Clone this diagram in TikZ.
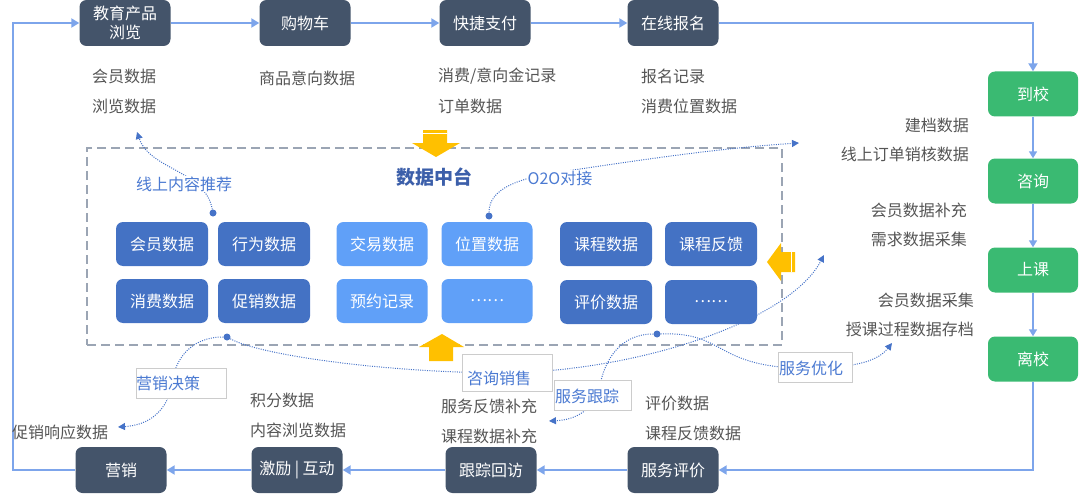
\documentclass[tikz,border=0pt]{standalone}
\usepackage{fontspec}
\setmainfont{Noto Sans CJK SC}
\usetikzlibrary{arrows.meta}
\definecolor{dkn}{RGB}{68,84,106}
\definecolor{grn}{RGB}{58,186,114}
\definecolor{dbl}{RGB}{68,114,196}
\definecolor{lbl}{RGB}{96,160,248}
\definecolor{flw}{RGB}{125,165,235}
\definecolor{gtx}{RGB}{85,85,85}
\definecolor{cbl}{RGB}{70,115,200}
\definecolor{tbl}{RGB}{75,122,210}
\definecolor{frm}{RGB}{155,165,180}
\definecolor{org}{RGB}{255,192,0}
\definecolor{ttl}{RGB}{60,95,170}
\newcommand\myfs{\fontsize{16}{19}\selectfont}
\begin{document}
\begin{tikzpicture}[x=1pt,y=-1pt,
  box/.style={rounded corners=7pt, inner sep=0pt, align=center, text=white, font=\myfs},
  dk/.style={box, fill=dkn, minimum width=91pt, minimum height=46pt},
  gr/.style={box, fill=grn, minimum width=90pt, minimum height=45pt},
  db/.style={box, fill=dbl, minimum width=92pt, minimum height=44pt},
  lb/.style={box, fill=lbl, minimum width=91pt, minimum height=44pt},
  txl/.style={anchor=west, inner sep=0pt, text=gtx, font=\myfs},
  txr/.style={anchor=east, inner sep=0pt, text=gtx, font=\myfs},
  flow/.style={draw=flw, line width=2pt, -{Triangle[length=8pt,width=9pt]}},
  gflow/.style={draw=flw, line width=1.6pt, -{Triangle[length=7pt,width=8pt]}},
  conn/.style={draw=cbl, line width=1pt, dash pattern=on 1pt off 1.3pt},
  carr/.style={conn, -{Triangle[length=7pt,width=7pt]}},
  cdot/.style={circle, fill=cbl, inner sep=0pt, minimum size=7pt},
  lbx/.style={draw=black!20, fill=white, text=tbl, font=\myfs, inner ysep=0pt, line width=0.6pt, align=left},
  ltx/.style={anchor=west, inner sep=0pt, text=tbl, font=\myfs},
  oarr/.style={fill=org}
]
\useasboundingbox (0,0) rectangle (1080,495);

% frame
\node[draw=frm, line width=1.5pt, dash pattern=on 9pt off 5pt, minimum width=695pt, minimum height=197pt, inner sep=0pt] (frame) at (434.5,246.5) {};
\node[font=\bfseries\fontsize{19}{22}\selectfont, text=ttl] (title) at (434,177) {数据中台};

% top flow nodes
\node[dk] (edu) at (125,23) {教育产品\\浏览};
\node[dk] (cart) at (305,23) {购物车};
\node[dk] (pay) at (485,23) {快捷支付};
\node[dk] (reg) at (673,23) {在线报名};
% right green nodes
\node[gr] (dx) at (1033,94) {到校};
\node[gr] (zx) at (1033,181) {咨询};
\node[gr] (sk) at (1033,270) {上课};
\node[gr] (lx) at (1033,359) {离校};
% bottom nodes
\node[dk] (mk) at (121,470) {营销};
\node[dk] (jl) at (297,470) {激励 | 互动};
\node[dk] (gz) at (491,470) {跟踪回访};
\node[dk] (fw) at (673,470) {服务评价};

% flow arrows
\draw[flow] (edu) -- (cart);
\draw[flow] (cart) -- (pay);
\draw[flow] (pay) -- (reg);
\draw[flow] (reg.east) -| (dx.north);
\draw[gflow] (dx) -- (zx);
\draw[gflow] (zx) -- (sk);
\draw[gflow] (sk) -- (lx);
\draw[flow] (lx.south) |- (fw.east);
\draw[flow] (fw) -- (gz);
\draw[flow] (gz) -- (jl);
\draw[flow] (jl) -- (mk);
\coordinate (lft) at (13,250);
\draw[flow] (mk.west) -| (lft) |- (edu.west);

% data labels
\node[txl] (t1) at (92,76) {会员数据};
\node[txl] (t2) at (92,106) {浏览数据};
\node[txl] (t3) at (259,78) {商品意向数据};
\node[txl] (t4) at (438,76) {消费/意向金记录};
\node[txl] (t5) at (438,106) {订单数据};
\node[txl] (t6) at (641,76) {报名记录};
\node[txl] (t7) at (641,106) {消费位置数据};
\node[txr] (t8) at (969,125) {建档数据};
\node[txr] (t9) at (969,154) {线上订单销核数据};
\node[txr] (t10) at (967,210) {会员数据补充};
\node[txr] (t11) at (967,239) {需求数据采集};
\node[txr] (t12) at (974,300) {会员数据采集};
\node[txr] (t13) at (974,329) {授课过程数据存档};
\node[txl] (t14) at (12,432) {促销响应数据};
\node[txl] (t15) at (250,400) {积分数据};
\node[txl] (t16) at (250,430) {内容浏览数据};
\node[txl] (t17) at (441,406) {服务反馈补充};
\node[txl] (t18) at (441,436) {课程数据补充};
\node[txl] (t19) at (645,403) {评价数据};
\node[txl] (t20) at (645,433) {课程反馈数据};

% inner data boxes
\node[db] (b1) at (162,244) {会员数据};
\node[db] (b2) at (264,244) {行为数据};
\node[db] (b3) at (162,301) {消费数据};
\node[db] (b4) at (264,301) {促销数据};
\node[lb] (b5) at (382,244) {交易数据};
\node[lb] (b6) at (382,301) {预约记录};
\node[lb] (b7) at (487,244) {位置数据};
\node[lb] (b8) at (487,301) {……};
\node[db] (b9) at (606,244) {课程数据};
\node[db] (b10) at (711,244) {课程反馈};
\node[db] (b11) at (606,302) {评价数据};
\node[db] (b12) at (711,302) {……};

% orange arrows
\fill[oarr] (423,130) -- (447,130) -- (447,143) -- (460,143) -- (436,157) -- (412,143) -- (423,143) -- cycle;
\draw[white, line width=0.8pt] (423,133) -- (447,133);
\fill[oarr] (429,361) -- (453,361) -- (453,347) -- (464,347) -- (442,334) -- (419,347) -- (429,347) -- cycle;
\fill[oarr] (795,252) -- (795,272) -- (781,272) -- (781,281) -- (767,262) -- (781,243) -- (781,252) -- cycle;
\draw[white, line width=0.8pt] (791,252) -- (791,272);

% connectors
\node[cdot] (d1) at (213,213) {};
\coordinate (a1) at (137,132);
\draw[carr] (d1) .. controls (205,170) and (150,170) .. (a1);
\node[font=\myfs, text=tbl, fill=white, inner sep=1pt] (l1) at (184,184) {线上内容推荐};

\node[cdot] (d2) at (489,216) {};
\coordinate (a2) at (799,143);
\draw[carr] (d2) .. controls (489,188) and (520,178) .. (560,172) .. controls (640,160) and (720,148) .. (a2);
\node[font=\myfs, text=tbl, fill=white, inner sep=1pt] (l2) at (560,178) {O2O对接};

\node[cdot] (d3) at (227,337) {};
\coordinate (a3) at (118,427);
\coordinate (a4) at (824,255);
\draw[carr] (d3) .. controls (190,337) and (175,360) .. (172,383) .. controls (168,410) and (150,425) .. (a3);
\draw[carr] (d3) .. controls (260,355) and (380,372) .. (500,373) .. controls (640,372) and (790,320) .. (a4);

\node[cdot] (d4) at (657,334) {};
\coordinate (a5) at (549,421);
\coordinate (a6) at (892,343);
\draw[carr] (d4) .. controls (620,334) and (605,360) .. (600,385) .. controls (595,410) and (575,420) .. (a5);
\draw[carr] (d4) .. controls (720,332) and (715,360) .. (780,367) .. controls (840,370) and (875,365) .. (a6);

\node[lbx, minimum width=90pt, minimum height=30pt] (l3) at (181,383) {};
\node[ltx] (l3t) at (136,383) {营销决策};
\node[lbx, minimum width=90pt, minimum height=37pt] (l4) at (507,372.5) {};
\node[ltx] (l4t) at (467,378) {咨询销售};
\node[lbx, minimum width=77pt, minimum height=30pt] (l5) at (592.5,395) {};
\node[ltx] (l5t) at (555,396) {服务跟踪};
\node[lbx, minimum width=74pt, minimum height=30pt] (l6) at (815,367) {};
\node[ltx] (l6t) at (779,368) {服务优化};
\end{tikzpicture}
\end{document}
